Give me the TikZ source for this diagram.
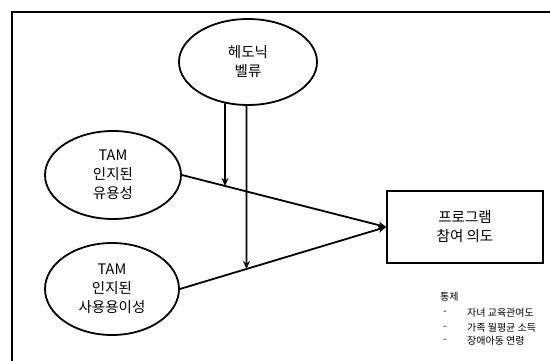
\documentclass[tikz,border=0pt]{standalone}
\usepackage{fontspec}
\setmainfont{Noto Sans CJK KR}
\usetikzlibrary{shapes.geometric,arrows.meta,calc}
\begin{document}
\begin{tikzpicture}[x=1pt,y=-1pt,
  oval/.style={ellipse,draw,line width=1.8pt,inner sep=0pt,align=center,
    font=\fontsize{14.5}{19}\selectfont},
  outbox/.style={rectangle,draw,line width=1.8pt,inner sep=0pt,align=center,
    font=\fontsize{14.5}{19}\selectfont},
  conn/.style={line width=1.8pt,-{Stealth[length=8pt,width=7pt]}},
  legend/.style={anchor=west,inner sep=0pt,font=\fontsize{10}{12}\selectfont}]
\useasboundingbox (0,0) rectangle (550,361);
\draw[line width=2.6pt] (12,361) -- (12,12) -- (550,12);
\node[oval,minimum width=138,minimum height=86] (h) at (248,62) {헤도닉\\벨류};
\node[oval,minimum width=136,minimum height=88] (u) at (113,175) {TAM\\인지된\\유용성};
\node[oval,minimum width=134,minimum height=92] (e) at (112,289) {TAM\\인지된\\사용용이성};
\node[outbox,minimum width=156,minimum height=72] (b) at (465,227) {프로그램\\참여 의도};
\draw[conn] (u.east) -- (b.west);
\draw[conn] (e.east) -- (b.west);
\coordinate (a1) at (h.241);
\coordinate (a2) at (h.268);
\coordinate (a1b) at ($(a1)+(0,200)$);
\coordinate (a2b) at ($(a2)+(0,200)$);
\draw[conn] (a1) -- (intersection of a1--a1b and u.east--b.west);
\draw[conn] (a2) -- (intersection of a2--a2b and e.east--b.west);
\node[legend] (l0) at (440,297) {통제};
\node[legend] (d1) at (443,313) {-};
\node[legend] (d2) at (443,328) {-};
\node[legend] (d3) at (443,341) {-};
\node[legend] (l1) at (467,313) {자녀 교육관여도};
\node[legend] (l2) at (467,328) {가족 월평균 소득};
\node[legend] (l3) at (467,341) {장애아동 연령};
\end{tikzpicture}
\end{document}
